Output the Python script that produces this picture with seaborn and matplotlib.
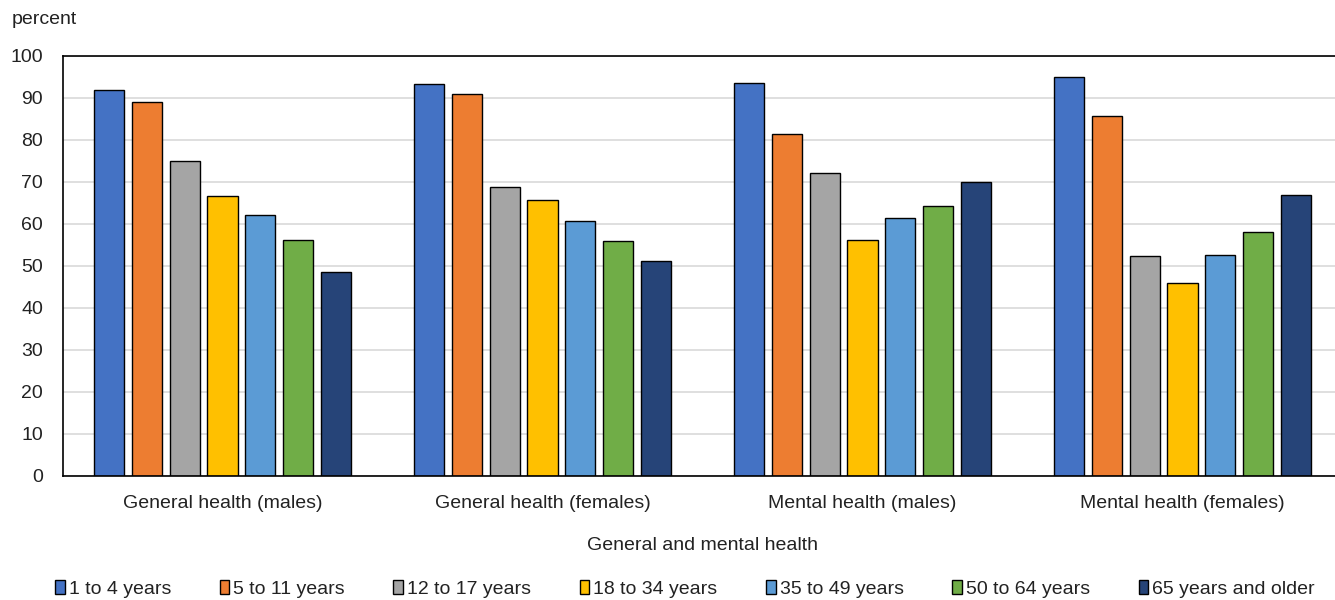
import matplotlib
matplotlib.use("Agg")
import matplotlib.pyplot as plt
import seaborn as sns
import pandas as pd

categories = ["General health (males)", "General health (females)",
              "Mental health (males)", "Mental health (females)"]
age_groups = ["1 to 4 years", "5 to 11 years", "12 to 17 years", "18 to 34 years",
              "35 to 49 years", "50 to 64 years", "65 years and older"]
values_1_4 = [91.8, 93.2, 93.4, 95.0]
values_5_11 = [89.0, 90.9, 81.3, 85.6]
values_12_17 = [75.0, 68.7, 72.0, 52.2]
values_18_34 = [66.6, 65.6, 56.0, 45.9]
values_35_49 = [62.0, 60.6, 61.3, 52.5]
values_50_64 = [56.1, 55.9, 64.2, 58.0]
values_65_plus = [48.5, 51.1, 69.8, 66.7]
yticks = [0, 10, 20, 30, 40, 50, 60, 70, 80, 90, 100]

series = [values_1_4, values_5_11, values_12_17, values_18_34,
          values_35_49, values_50_64, values_65_plus]
colors = ["#4472C4", "#ED7D31", "#A5A5A5", "#FFC000", "#5B9BD5", "#70AD47", "#264478"]

rows = []
for g, vals in zip(age_groups, series):
    for c, v in zip(categories, vals):
        rows.append({"category": c, "age": g, "value": v})
df = pd.DataFrame(rows)

sns.set_theme(style="white")
FONT = ["Liberation Sans", "DejaVu Sans"]
plt.rcParams["font.family"] = FONT
TXT = "#222222"

fig = plt.figure(figsize=(13.35, 6.0), dpi=100)
ax = fig.add_axes([62.5 / 1335, (600 - 475.5) / 600, 1280 / 1335, 420 / 600])

sns.barplot(data=df, x="category", y="value", hue="age", order=categories,
            hue_order=age_groups, palette=colors, ax=ax, width=0.825, gap=0.2,
            edgecolor="black", linewidth=1.0, saturation=1, legend=True)

ax.set_ylim(0, 100)
ax.set_yticks(yticks)
ax.set_xlim(-0.5, len(categories) - 0.5)
ax.grid(axis="y", color="#D9D9D9", linewidth=1.2)
ax.set_axisbelow(True)
ax.spines["right"].set_visible(False)
for s in ["left", "top", "bottom"]:
    ax.spines[s].set_color("black")
    ax.spines[s].set_linewidth(1.2)
ax.tick_params(axis="both", length=0, labelsize=14, colors=TXT)
ax.tick_params(axis="y", pad=14)
ax.tick_params(axis="x", pad=14)
ax.set_ylabel("")
ax.set_xlabel("General and mental health", fontsize=14, color=TXT, labelpad=18)

fig.text(12 / 1335, 1 - 20 / 600, "percent", fontsize=14, color=TXT,
         va="center", ha="left")

handles, labels = ax.get_legend_handles_labels()
ax.legend_.remove()
leg = fig.legend(handles, labels, loc="center", bbox_to_anchor=(0.513, 1 - 589 / 600),
                 ncol=7, frameon=False, fontsize=14, handlelength=0.5,
                 handleheight=0.75, handletextpad=0.2, columnspacing=2.5)
for t in leg.get_texts():
    t.set_color(TXT)

fig.savefig("out.png", dpi=100)
